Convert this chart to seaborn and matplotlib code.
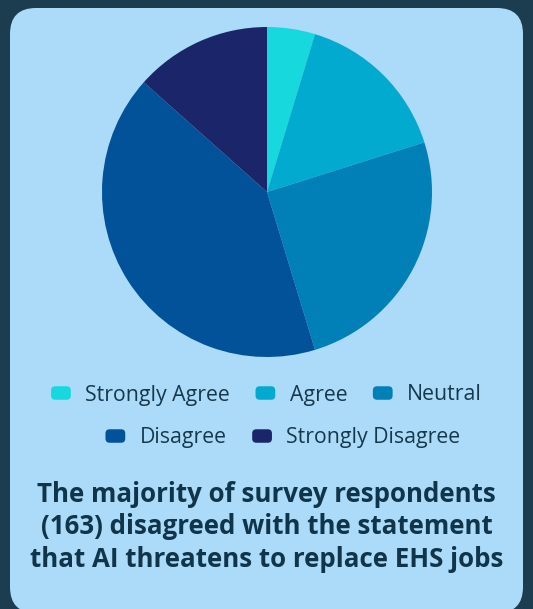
import matplotlib
matplotlib.use("Agg")
import matplotlib.pyplot as plt
import seaborn as sns
from matplotlib.patches import FancyBboxPatch
from matplotlib.legend_handler import HandlerPatch

categories = ["Strongly Agree", "Agree", "Neutral", "Disagree", "Strongly Disagree"]
counts = [14, 46, 75, 123, 40]
colors = ["#17d8dc", "#02aad0", "#0180b8", "#025299", "#1a2669"]
title_lines = ["The majority of survey respondents",
               "(163) disagreed with the statement",
               "that AI threatens to replace EHS jobs"]

sns.set_theme(style="white")
plt.rcParams['font.family'] = ['Open Sans', 'DejaVu Sans']

W, H = 533, 609
fig = plt.figure(figsize=(W / 100, H / 100), dpi=100)
fig.patch.set_facecolor("#1c3d4f")

bg = fig.add_axes([0, 0, 1, 1], zorder=0)
bg.set_xlim(0, W)
bg.set_ylim(H, 0)
bg.axis("off")
bg.add_patch(FancyBboxPatch((10, 8), 513, 605,
                            boxstyle="round,pad=0,rounding_size=26",
                            facecolor="#abdbf9", edgecolor="none"))

cx, cy, r = 267, 192, 165
ax = fig.add_axes([(cx - r) / W, (H - cy - r) / H, 2 * r / W, 2 * r / H], zorder=1)
wedges, _ = ax.pie(counts, colors=colors, startangle=90, counterclock=False,
                   wedgeprops=dict(linewidth=0))
ax.set_xlim(-1, 1)
ax.set_ylim(-1, 1)
ax.set_aspect("equal")
ax.axis("off")


class RoundHandler(HandlerPatch):
    def create_artists(self, legend, orig_handle, xdescent, ydescent,
                       width, height, fontsize, trans):
        p = FancyBboxPatch((-xdescent, -ydescent), width, height,
                           boxstyle="round,pad=0,rounding_size=3",
                           facecolor=orig_handle.get_facecolor(),
                           edgecolor="none", transform=trans)
        return [p]


common = dict(frameon=False, fontsize=15.3, handlelength=0.93, handleheight=0.6,
              handletextpad=0.68, columnspacing=1.2, labelcolor="#17384c",
              handler_map={w: RoundHandler() for w in wedges})
fig.legend(wedges[:3], categories[:3], ncol=3, loc="center",
           bbox_to_anchor=(266.5 / W, 1 - 395 / H), **common)
fig.legend(wedges[3:], categories[3:], ncol=2, loc="center",
           bbox_to_anchor=(283 / W, 1 - 438 / H), **common)

fig.text(0.5, 1 - 527 / H, "\n".join(title_lines), ha="center", va="center",
         fontsize=18.6, fontweight="bold", color="#10344a", linespacing=1.24)

fig.savefig("out.png", dpi=100, facecolor=fig.get_facecolor())
